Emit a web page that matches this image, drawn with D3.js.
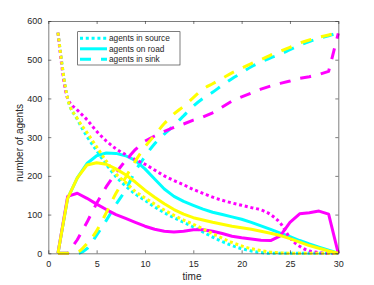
<!DOCTYPE html>
<html><head><meta charset="utf-8">
<script src="https://cdn.jsdelivr.net/npm/d3@7"></script>
<style>
body{margin:0;background:#fff;}
svg{display:block;font-family:"Liberation Sans",Arial,Helvetica,sans-serif;}
</style>
</head><body>
<svg id="chart" width="374" height="285"></svg>
<script>
// ---- data ----
const time = [1,2,3,4,5,6,7,8,9,10,11,12,13,14,15,16,17,18,19,20,21,22,23,24,25,26,27,28,29,30];

const cyanSource    = [570,400,346,302,265,230,198,174,153,137,120,105,92,80,68,55,42,30,20,12,6,2,0,0,0,0,0,0,0,0];
const cyanRoad      = [0,142,195,232,252,259,258,252,240,218,192,166,147,134,124,114,106,100,94,88,80,71,62,52,43,33,24,16,8,0];
const cyanSink      = [0,0,0,12,47,85,126,164,212,250,283,308,330,355,380,400,416,434,451,466,482,494,505,514,526,537,547,555,562,570];

const magentaSource = [570,400,370,345,315,290,270,255,242,230,215,200,188,177,165,155,145,137,130,124,118,112,100,78,40,18,6,2,0,0];
const magentaRoad   = [0,147,155,142,127,113,100,90,80,70,62,57,55,57,61,61,57,51,44,40,37,34,33,45,80,102,105,109,101,0];
const magentaSink   = [0,0,35,80,129,172,208,240,268,290,303,315,325,334,344,352,363,378,393,404,414,424,432,439,445,452,456,462,470,568];

const yellowSource  = [570,400,348,312,275,238,205,183,160,143,127,112,98,86,75,63,51,39,28,19,12,7,3,1,0,0,0,0,0,0];
const yellowRoad    = [0,142,195,228,234,230,218,203,184,163,145,128,113,101,92,86,80,75,70,66,62,57,52,46,38,29,20,13,6,0];
const yellowSink    = [0,0,3,25,58,105,155,196,238,275,305,335,360,380,402,424,438,452,466,478,490,500,512,522,532,543,551,558,564,570];

const xTicks = [0,5,10,15,20,25,30];
const yTicks = [0,100,200,300,400,500,600];
const legendLabels = ["agents in source","agents on road","agents in sink"];
const xLabel = "time";
const yLabel = "number of agents";

// ---- styles ----
const colors = {cyan:"#00ffff", magenta:"#ff00ff", yellow:"#ffff00"};
const dashes = {source:"3,2.8", road:null, sink:"11,10"};

const series = [
  {values:cyanSource, color:colors.cyan, kind:"source", curve:d3.curveMonotoneX},
  {values:cyanRoad, color:colors.cyan, kind:"road", curve:d3.curveLinear},
  {values:cyanSink, color:colors.cyan, kind:"sink", curve:d3.curveMonotoneX},
  {values:magentaSource, color:colors.magenta, kind:"source", curve:d3.curveMonotoneX},
  {values:magentaRoad, color:colors.magenta, kind:"road", curve:d3.curveLinear},
  {values:magentaSink, color:colors.magenta, kind:"sink", curve:d3.curveLinear},
  {values:yellowSource, color:colors.yellow, kind:"source", curve:d3.curveMonotoneX},
  {values:yellowRoad, color:colors.yellow, kind:"road", curve:d3.curveLinear},
  {values:yellowSink, color:colors.yellow, kind:"sink", curve:d3.curveMonotoneX}
];

const svg = d3.select("#chart");
const L = 48.3, R = 338.3, T = 21, B = 253.3;
const x = d3.scaleLinear().domain([0,30]).range([L,R]);
const y = d3.scaleLinear().domain([0,600]).range([B,T]);

const axisColor = "#262626";

// lines
series.forEach(s => {
  const line = d3.line().x((d,i)=>x(time[i])).y(d=>y(d)).curve(s.curve);
  svg.append("path")
    .attr("d", line(s.values))
    .attr("fill","none")
    .attr("stroke", s.color)
    .attr("stroke-width", 3)
    .attr("stroke-dasharray", dashes[s.kind])
    .attr("stroke-linejoin","round");
});

// axes
function styleAxis(g){
  g.selectAll("path.domain").attr("stroke", axisColor).attr("stroke-width",0.6);
  g.selectAll(".tick line").attr("stroke", axisColor).attr("stroke-width",0.6);
  g.selectAll("text").attr("fill","#262626").style("font-size","9px")
   .style("font-family",'"Liberation Sans",Arial,sans-serif');
}
svg.append("g").attr("transform",`translate(0,${B})`)
  .call(d3.axisBottom(x).tickValues(xTicks).tickSizeInner(-3).tickSizeOuter(0).tickPadding(7))
  .call(styleAxis);
svg.append("g").attr("transform",`translate(0,${T})`)
  .call(d3.axisTop(x).tickValues(xTicks).tickSizeInner(-3).tickSizeOuter(0).tickFormat(""))
  .call(styleAxis);
svg.append("g").attr("transform",`translate(${L},0)`)
  .call(d3.axisLeft(y).tickValues(yTicks).tickSizeInner(-3).tickSizeOuter(0).tickPadding(6))
  .call(styleAxis);
svg.append("g").attr("transform",`translate(${R},0)`)
  .call(d3.axisRight(y).tickValues(yTicks).tickSizeInner(-3).tickSizeOuter(0).tickFormat(""))
  .call(styleAxis);

// axis labels
svg.append("text").attr("x", 192).attr("y", 280).attr("text-anchor","middle")
  .attr("fill","#262626").style("font-size","10px").text(xLabel);
svg.append("text").attr("transform","translate(23,143) rotate(-90)").attr("text-anchor","middle")
  .attr("fill","#262626").style("font-size","10px").text(yLabel);

// legend
const lg = svg.append("g");
lg.append("rect").attr("x",77.7).attr("y",31.7).attr("width",102.3).attr("height",33.3)
  .attr("fill","#fff").attr("stroke",axisColor).attr("stroke-width",0.6);
const legendKinds = ["source","road","sink"];
const rowY = [38.3, 48.8, 59.3];
legendKinds.forEach((k,i)=>{
  lg.append("line").attr("x1",80).attr("x2",107).attr("y1",rowY[i]).attr("y2",rowY[i])
    .attr("stroke",colors.cyan).attr("stroke-width",3).attr("stroke-dasharray",dashes[k]);
  lg.append("text").attr("x",109).attr("y",rowY[i]).attr("dy","0.35em")
    .attr("fill","#262626").style("font-size","8.3px").text(legendLabels[i]);
});
</script>
</body></html>
